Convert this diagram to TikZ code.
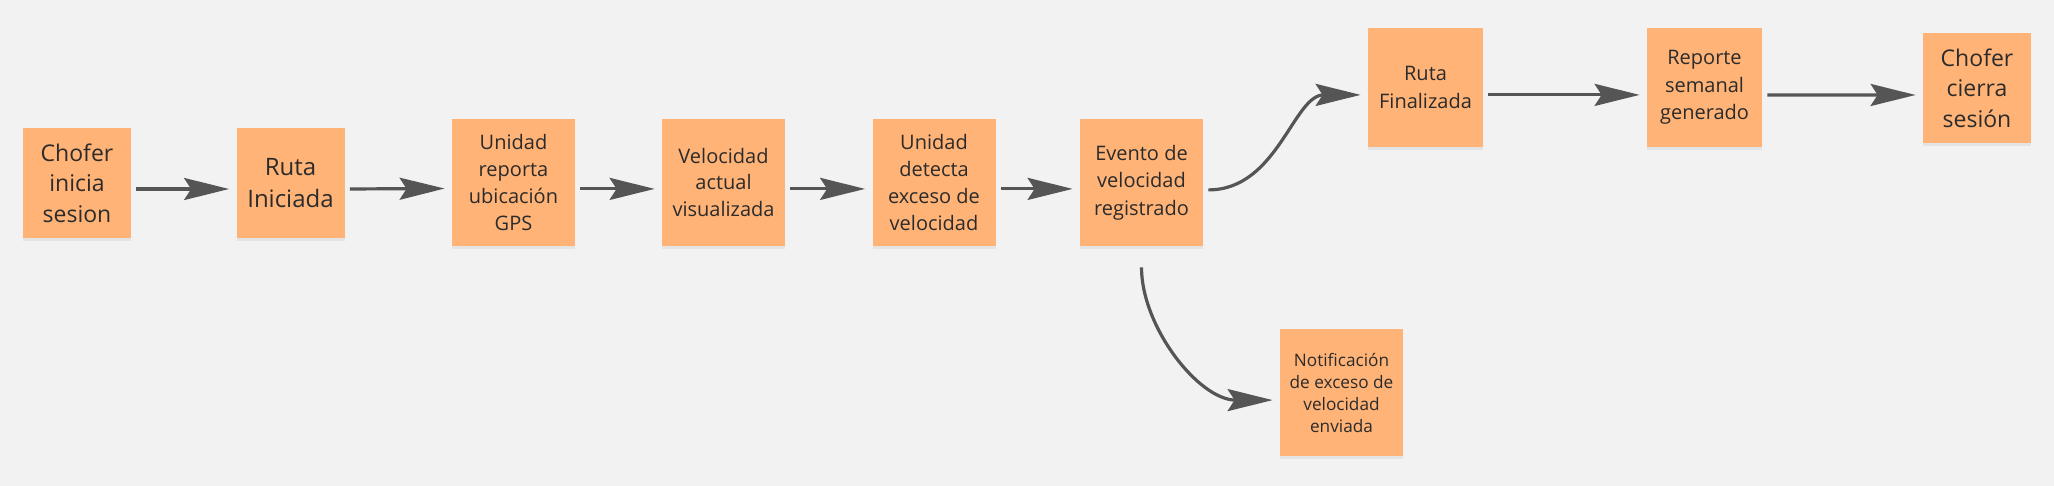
\documentclass[tikz,border=0pt]{standalone}
\usepackage{fontspec}
\setmainfont{Open Sans}
\usetikzlibrary{arrows.meta,shadows}
\definecolor{stickyorange}{HTML}{FFB377}
\definecolor{board}{HTML}{F2F2F2}
\definecolor{ink}{HTML}{2B2B2B}
\definecolor{wire}{HTML}{555555}
\tikzset{
	sticky/.style={fill=stickyorange, text=ink, align=center, inner sep=0pt,
		drop shadow={shadow xshift=0pt, shadow yshift=-1.5pt, opacity=0.12}},
	stickyS/.style={sticky, minimum width=54pt, minimum height=55pt, font=\fontsize{11.5}{15.3}\selectfont},
	stickyM/.style={sticky, minimum width=61.5pt, minimum height=63.5pt, font=\fontsize{10}{13.4}\selectfont},
	stickyL/.style={sticky, minimum width=57.5pt, minimum height=59.5pt, font=\fontsize{10}{13.8}\selectfont},
	flow/.style={draw=wire, line width=1.6pt, -{Stealth[length=22.5pt, width=11pt, inset=3.5pt]},
		shorten <=2.5pt, shorten >=3.5pt}
}

\begin{document}
\begin{tikzpicture}[x=0.5pt, y=-0.5pt]
		%%%%% START %%%%%
		\fill[board] (0, 0) rectangle (2054, 486);
		\useasboundingbox (0, 0) rectangle (2054, 486);
		
		\node[stickyS] (chofer) at (77, 183) {Chofer\\inicia\\sesion};
		\node[stickyS, font=\fontsize{12}{16}\selectfont] (iniciada) at (290.5, 183) {Ruta\\Iniciada};
		\node[stickyM] (gps) at (513.5, 182.5) {Unidad\\reporta\\ubicación\\GPS};
		\node[stickyM] (visual) at (723.5, 182.5) {Velocidad\\actual\\visualizada};
		\node[stickyM] (detecta) at (934, 182.5) {Unidad\\detecta\\exceso de\\velocidad};
		\node[stickyM, font=\fontsize{10}{13.8}\selectfont] (evento) at (1141.5, 182.5) {Evento de\\velocidad\\registrado};
		
		\node[stickyL] (finalizada) at (1425.5, 87.5) {Ruta\\Finalizada};
		\node[stickyL] (reporte) at (1704.5, 87.5) {Reporte\\semanal\\generado};
		\node[stickyS] (cierra) at (1977, 88) {Chofer\\cierra\\sesión};
		
		\node[stickyM, font=\fontsize{8.6}{11}\selectfont] (notif) at (1341.5, 392.5) {Notificación\\de exceso de\\velocidad\\enviada};
		
		\draw[flow] ([yshift=-3pt]chofer.east) -- ([yshift=-3pt]iniciada.west);
		\draw[flow] ([yshift=-3pt]iniciada.east) -- ([yshift=-3pt]gps.west);
		\draw[flow] ([yshift=-3.2pt]gps.east) -- ([yshift=-3.2pt]visual.west);
		\draw[flow] ([yshift=-3.2pt]visual.east) -- ([yshift=-3.2pt]detecta.west);
		\draw[flow] ([yshift=-3.2pt]detecta.east) -- ([yshift=-3.2pt]evento.west);
		\draw[flow] ([yshift=-3.7pt]evento.east) to[out=0, in=180] ([yshift=-3.7pt]finalizada.west);
		\draw[flow] ([yshift=-3.7pt]finalizada.east) -- ([yshift=-3.7pt]reporte.west);
		\draw[flow] ([yshift=-3.7pt]reporte.east) -- ([yshift=-3.5pt]cierra.west);
		\draw[flow, shorten <=10.5pt] (evento.south) to[out=-90, in=180] ([yshift=-3.8pt]notif.west);
		%%%%% END %%%%%
	\end{tikzpicture}
\end{document}
